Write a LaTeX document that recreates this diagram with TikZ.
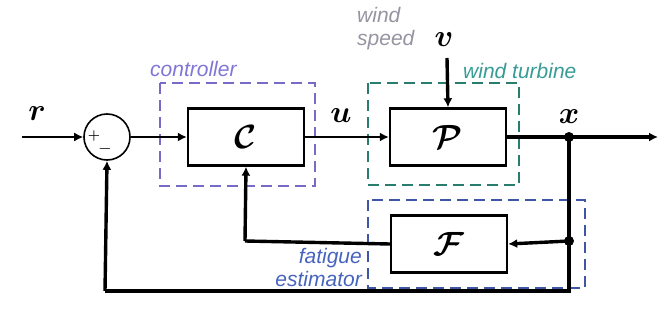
\documentclass[tikz,border=0pt]{standalone}
\usepackage{graphicx}
\usepackage{fontspec}
\setsansfont{Liberation Sans}
\usetikzlibrary{arrows.meta}
\definecolor{ctrlc}{RGB}{118,108,200}
\definecolor{turbc}{RGB}{40,125,110}
\definecolor{fatc}{RGB}{62,86,165}
\definecolor{ctrlt}{RGB}{128,118,215}
\definecolor{turbt}{RGB}{55,155,150}
\definecolor{fatt}{RGB}{70,100,190}
\definecolor{windt}{RGB}{150,148,160}
% enlarged bold math symbols
\newcommand{\blkmath}[1]{\scalebox{1.35}{\Huge\boldmath$#1$}}
\newcommand{\sigmath}[1]{\scalebox{1.25}{\Huge\boldmath$#1$}}
\begin{document}
\begin{tikzpicture}[x=1pt,y=-1pt,
  blk/.style={draw,line width=2.4pt,minimum width=116pt,minimum height=57pt,inner sep=0pt},
  sig/.style={inner sep=0pt},
  grp/.style={line width=1.8pt,dash pattern=on 11pt off 6pt},
  tag/.style={font=\sffamily\itshape\fontsize{21}{23}\selectfont,inner sep=0pt},
  thin/.style={line width=1.6pt},
  thick/.style={line width=3.4pt},
  tip/.style={-{Latex[length=9pt,width=9pt]}},
  dot/.style={circle,fill,inner sep=0pt,minimum size=10pt}]
\useasboundingbox (0,0) rectangle (664,321);

% summing junction
\node[draw,circle,line width=1.6pt,minimum size=46pt,inner sep=0pt] (sum) at (107,137) {};
\node[font=\fontsize{14}{14}\selectfont\bfseries,inner sep=0pt] (plus) at (94,136) {+};
\node[font=\fontsize{14}{14}\selectfont\bfseries,inner sep=0pt] (minus) at (105,151) {\textminus};

% blocks
\node[blk] (C) at (246,137) {\blkmath{\mathcal{C}}};
\node[blk] (P) at (448,137) {\blkmath{\mathcal{P}}};
\node[blk] (F) at (449,244) {\blkmath{\mathcal{F}}};

% grouping frames
\draw[grp,ctrlc] (160,83) rectangle (315,186);
\draw[grp,turbc] (368,83) rectangle (519,185);
\draw[grp,fatc] (368,200) rectangle (585,288);

% frame captions
\node[tag,ctrlt,anchor=base west] (tctrl) at (150,77) {controller};
\node[tag,turbt,anchor=base west] (tturb) at (463,78) {wind turbine};
\node[tag,fatt,anchor=north east,align=right] (tfat) at (362,248) {fatigue\\estimator};
\node[tag,windt,anchor=north west,align=left] (twind) at (357,7) {wind\\speed};

% signal names
\node[sig] (lr) at (37,114) {\sigmath{r}};
\node[sig] (lu) at (341,116) {\sigmath{u}};
\node[sig] (lv) at (444,40) {\sigmath{v}};
\node[sig] (lx) at (569,117) {\sigmath{x}};

% coordinates of wire ends and corners
\coordinate (rin) at (22,137);
\coordinate (vin) at (447,58);
\coordinate (out) at (658,137);
\coordinate (jx) at (569,137);
\coordinate (jf) at (569,241);
\coordinate (br) at (569,291);
\coordinate (bl) at (105,291);
\coordinate (fl) at (245,241);

% forward path
\draw[thin,tip] (rin) -- (sum.west);
\draw[thin,tip] (sum.east) -- (C.west);
\draw[thin,tip] (C.east) -- (P.west);
\draw[thick,tip] (P.east) -- (out);
\draw[thick,tip] (vin) -- (P.north);

% feedback paths
\draw[thick] (jx) -- (br) -- (bl);
\draw[thick,tip] (bl) -- (sum.south);
\draw[thick,tip] (jf) -- (F.east);
\draw[thick] (F.west) -- (fl);
\draw[thick,tip] (fl) -- (C.south);

% branch points
\node[dot] (dx) at (jx) {};
\node[dot] (df) at (jf) {};
\end{tikzpicture}
\end{document}
